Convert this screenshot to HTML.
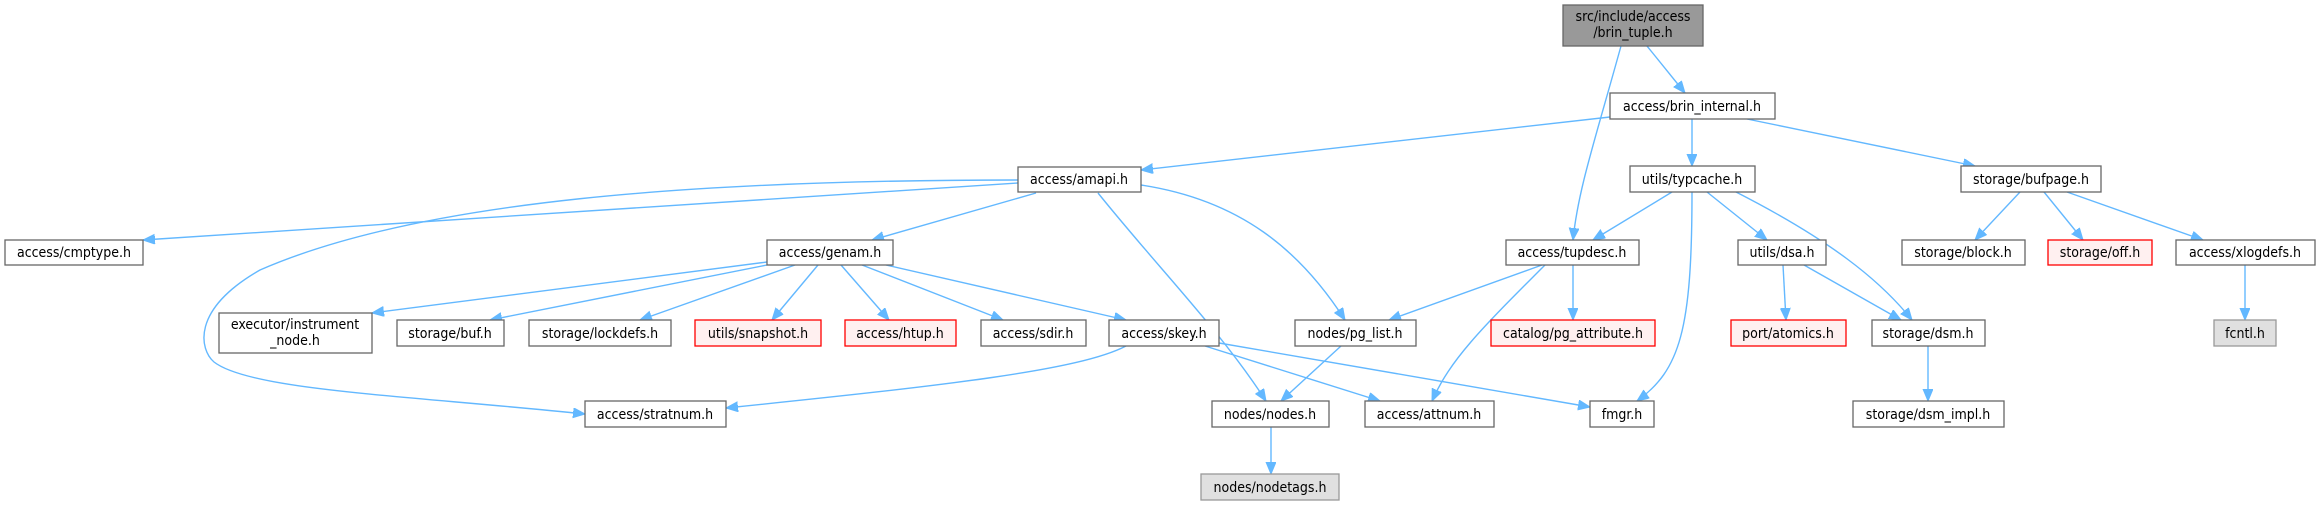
<!DOCTYPE html>
<html><head><meta charset="utf-8"><style>
html,body{margin:0;padding:0;background:#fff;width:2321px;height:505px;overflow:hidden}
svg text{font-family:"DejaVu Sans Condensed","DejaVu Sans",sans-serif;font-stretch:condensed;font-size:14px;fill:#000;text-anchor:middle}
</style></head><body>
<svg width="2321" height="505" viewBox="0 0 2321 505" xmlns="http://www.w3.org/2000/svg">
<defs>
<marker id="a" markerUnits="userSpaceOnUse" markerWidth="14" markerHeight="12" refX="12" refY="5" orient="auto">
<path d="M0,0 L12,5 L0,10 Z" fill="#63b8ff" stroke="#63b8ff"/>
</marker>
</defs>
<g fill="none" stroke="#63b8ff" stroke-width="1.4" marker-end="url(#a)">
<path d="M1647,46 L1685,93"/>
<path d="M1621,46 C1595,140 1578,190 1573,240"/>
<path d="M1610,117 L1141,170"/>
<path d="M1692,119 L1692,166"/>
<path d="M1747,119 L1975,166"/>
<path d="M1018,183 L143,240"/>
<path d="M1018,180 C700,180 420,200 260,270 C190,310 200,350 214,362 C250,390 400,395 585,414"/>
<path d="M1036,193 L872,240"/>
<path d="M1098,193 C1160,270 1220,330 1266,401"/>
<path d="M1141,185 C1240,200 1300,250 1345,320"/>
<path d="M767,262 L372,313"/>
<path d="M767,265 L490,320"/>
<path d="M795,265 L640,320"/>
<path d="M818,265 L772,320"/>
<path d="M841,265 L889,320"/>
<path d="M862,265 L1003,320"/>
<path d="M886,265 L1126,320"/>
<path d="M1126,346 C1080,370 950,385 726,408"/>
<path d="M1205,346 L1380,401"/>
<path d="M1219,343 L1590,407"/>
<path d="M1672,192 L1593,240"/>
<path d="M1692,192 C1692,330 1680,370 1637,401"/>
<path d="M1707,192 L1767,240"/>
<path d="M1736,192 C1830,240 1880,280 1912,320"/>
<path d="M1542,265 L1389,320"/>
<path d="M1573,265 L1573,320"/>
<path d="M1545,265 C1480,330 1450,360 1432,401"/>
<path d="M1783,265 L1786,320"/>
<path d="M1804,265 L1901,320"/>
<path d="M1341,346 L1281,401"/>
<path d="M2020,192 L1975,240"/>
<path d="M2044,192 L2083,240"/>
<path d="M2067,192 L2203,240"/>
<path d="M2245,265 L2245,320"/>
<path d="M1928,346 L1928,401"/>
<path d="M1271,427 L1271,474"/>
</g>
<g stroke-width="1.3">
<rect x="1563" y="5" width="140" height="41" fill="#999" stroke="#666"/>
<text x="1633" y="21">src/include/access</text><text x="1633" y="37">/brin_tuple.h</text>
<g fill="#fff" stroke="#666">
<rect x="1610" y="93" width="165" height="26"/>
<rect x="1018" y="167" width="123" height="25"/>
<rect x="1630" y="166" width="125" height="26"/>
<rect x="1961" y="166" width="140" height="26"/>
<rect x="5" y="240" width="138" height="25"/>
<rect x="767" y="240" width="126" height="25"/>
<rect x="1506" y="240" width="133" height="25"/>
<rect x="1738" y="240" width="88" height="25"/>
<rect x="1902" y="240" width="123" height="25"/>
<rect x="2176" y="240" width="139" height="25"/>
<rect x="219" y="313" width="153" height="40"/>
<rect x="397" y="320" width="107" height="26"/>
<rect x="529" y="320" width="142" height="26"/>
<rect x="981" y="320" width="105" height="26"/>
<rect x="1109" y="320" width="110" height="26"/>
<rect x="1295" y="320" width="121" height="26"/>
<rect x="1872" y="320" width="113" height="26"/>
<rect x="585" y="401" width="141" height="26"/>
<rect x="1212" y="401" width="117" height="26"/>
<rect x="1365" y="401" width="129" height="26"/>
<rect x="1590" y="401" width="64" height="26"/>
<rect x="1853" y="401" width="151" height="26"/>
</g>
<g fill="#fff0f0" stroke="#f00">
<rect x="695" y="320" width="126" height="26"/>
<rect x="845" y="320" width="111" height="26"/>
<rect x="2048" y="240" width="104" height="25"/>
<rect x="1491" y="320" width="164" height="26"/>
<rect x="1731" y="320" width="115" height="26"/>
</g>
<g fill="#e0e0e0" stroke="#999">
<rect x="2214" y="320" width="62" height="26"/>
<rect x="1201" y="474" width="138" height="26"/>
</g>
</g>
<text x="1692" y="111">access/brin_internal.h</text>
<text x="1079" y="184">access/amapi.h</text>
<text x="1692" y="184">utils/typcache.h</text>
<text x="2031" y="184">storage/bufpage.h</text>
<text x="74" y="257">access/cmptype.h</text>
<text x="830" y="257">access/genam.h</text>
<text x="1572" y="257">access/tupdesc.h</text>
<text x="1782" y="257">utils/dsa.h</text>
<text x="1963" y="257">storage/block.h</text>
<text x="2100" y="257">storage/off.h</text>
<text x="2245" y="257">access/xlogdefs.h</text>
<text x="295" y="329">executor/instrument</text>
<text x="295" y="345">_node.h</text>
<text x="450" y="338">storage/buf.h</text>
<text x="600" y="338">storage/lockdefs.h</text>
<text x="758" y="338">utils/snapshot.h</text>
<text x="900" y="338">access/htup.h</text>
<text x="1033" y="338">access/sdir.h</text>
<text x="1164" y="338">access/skey.h</text>
<text x="1355" y="338">nodes/pg_list.h</text>
<text x="1573" y="338">catalog/pg_attribute.h</text>
<text x="1788" y="338">port/atomics.h</text>
<text x="1928" y="338">storage/dsm.h</text>
<text x="2245" y="338">fcntl.h</text>
<text x="655" y="419">access/stratnum.h</text>
<text x="1270" y="419">nodes/nodes.h</text>
<text x="1429" y="419">access/attnum.h</text>
<text x="1622" y="419">fmgr.h</text>
<text x="1928" y="419">storage/dsm_impl.h</text>
<text x="1270" y="492">nodes/nodetags.h</text>
</svg>
</body></html>
